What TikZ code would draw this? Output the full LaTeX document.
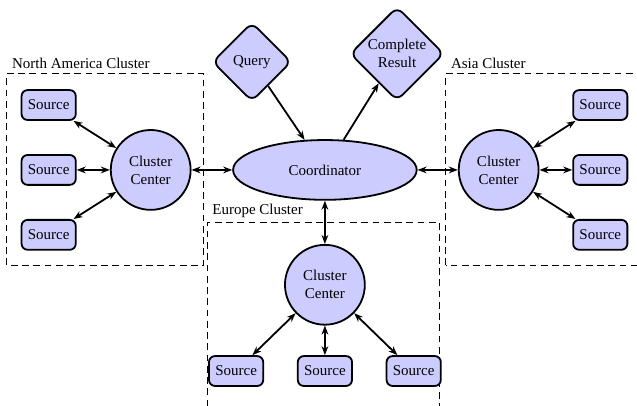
\documentclass[tikz,border=0pt]{standalone}
\usepackage{fontspec}
\setmainfont{Liberation Serif}
\usetikzlibrary{arrows.meta,positioning,shapes.geometric}

\begin{document}
\begin{tikzpicture}[
    source/.style={draw, line width=1.2pt, rounded corners=4pt, fill=blue!20, minimum width=1.27cm, minimum height=0.7cm, inner sep=2pt},
    hub/.style={draw, circle, line width=1.2pt, fill=blue!20, minimum size=1.87cm, inner sep=1pt, align=center},
    io/.style={draw, diamond, aspect=1, line width=1.2pt, rounded corners=5pt, fill=blue!20, inner sep=1pt, align=center},
    cluster/.style={draw, dash pattern=on 4.5pt off 3pt, line width=0.6pt},
    link/.style={{Stealth[length=6pt,width=4.5pt]}-{Stealth[length=6pt,width=4.5pt]}, line width=1.2pt},
    flow/.style={-{Stealth[length=6pt,width=4.5pt]}, line width=1.2pt}
]
    \clip (-7.61,-5.51) rectangle (7.31,3.98);

    % Coordinator
    \node[draw, ellipse, line width=1.2pt, fill=blue!20, minimum width=4.3cm, minimum height=1.4cm] (coord) at (0,0) {Coordinator};
    \node[io, minimum size=1.85cm] (query) at (-1.71,2.53) {Query};
    \node[io, minimum size=2.2cm] (result) at (1.69,2.72) {Complete\\Result};

    % North America
    \draw[cluster] (-7.45,-2.23) rectangle (-2.84,2.25);
    \node[above right] at (-7.45,2.25) {North America Cluster};
    \node[hub] (naHub) at (-4.08,0) {Cluster\\Center};
    \node[source] (naSrc1) at (-6.47,1.52) {Source};
    \node[source] (naSrc2) at (-6.47,0) {Source};
    \node[source] (naSrc3) at (-6.47,-1.52) {Source};

    % Asia
    \draw[cluster] (2.83,-2.23) rectangle (7.45,2.25);
    \node[above right] at (2.83,2.25) {Asia Cluster};
    \node[hub] (asHub) at (4.07,0) {Cluster\\Center};
    \node[source] (asSrc1) at (6.45,1.52) {Source};
    \node[source] (asSrc2) at (6.45,0) {Source};
    \node[source] (asSrc3) at (6.45,-1.52) {Source};

    % Europe
    \draw[cluster] (-2.76,-5.8) rectangle (2.69,-1.24);
    \node[above right] at (-2.76,-1.24) {Europe Cluster};
    \node[hub] (euHub) at (0,-2.69) {Cluster\\Center};
    \node[source] (euSrc1) at (-2.08,-4.71) {Source};
    \node[source] (euSrc2) at (0,-4.71) {Source};
    \node[source] (euSrc3) at (2.08,-4.71) {Source};

    % Connections
    \draw[flow] (query) -- (coord);
    \draw[flow] (coord) -- (result);
    \draw[link] (naHub) -- (coord);
    \draw[link] (coord) -- (asHub);
    \draw[link] (coord) -- (euHub);
    \foreach \i in {1,2,3} {
        \draw[link] (naHub) -- (naSrc\i);
        \draw[link] (asHub) -- (asSrc\i);
        \draw[link] (euHub) -- (euSrc\i);
    }
\end{tikzpicture}
\end{document}
